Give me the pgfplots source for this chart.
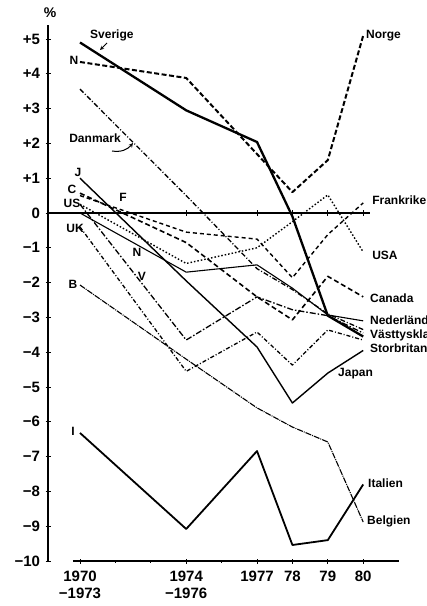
\documentclass[border=0pt]{standalone}
\usepackage{fontspec}
\setmainfont{Liberation Sans}
\usepackage{pgfplots}
\pgfplotsset{compat=1.18}
\tikzset{lbl/.style={font=\fontsize{12}{12}\selectfont\bfseries, inner sep=0pt}}
\begin{document}
\begin{tikzpicture}
\begin{axis}[
  x=35.4pt, y=34.8pt,
  xmin=1.096, xmax=11.03, ymin=-10, ymax=5.4,
  axis y line*=left, axis x line*=bottom,
  x axis line style={draw=none},
  y axis line style={line width=1.5pt},
  clip=false,
  ytick={-10,-9,...,5},
  yticklabels={−10,−9,−8,−7,−6,−5,−4,−3,−2,−1,0,+1,+2,+3,+4,+5},
  xtick={2,5,7,8,9,10},
  xticklabels={{1970\\−1973},{1974\\−1976},1977,78,79,80},
  minor xtick={3,4,6},
  tick align=center,
  major tick length=5pt, minor tick length=3pt,
  tick style={line width=1pt, black},
  yticklabel style={font=\fontsize{15}{15}\selectfont\bfseries, xshift=-2pt},
  xticklabel style={font=\fontsize{15}{17}\selectfont\bfseries, align=center, yshift=-4pt},
  every axis plot/.append style={black, line join=round},
]
% bounding box corners
\coordinate (BL) at (axis cs:-0.26,-11.293);
\coordinate (TR) at (axis cs:11.774,6.121);
% axes decorations
\draw[line width=1.5pt] (axis cs:1.8,-10) -- (axis cs:11.0,-10);
\addplot[line width=1.8pt] coordinates {(1.096,0) (10.2,0)};
\addplot[only marks, mark=|, mark size=3pt, mark options={line width=1pt}] coordinates {(5,0) (7,0) (8,0) (9,0) (10,0)};
% Sverige
\addplot[line width=2.3pt] coordinates {(2,4.9) (5,2.95) (7,2.04) (8,-0.1) (9,-2.95) (10,-3.55)};
% Norge
\addplot[line width=2pt, dash pattern=on 5pt off 2.5pt] coordinates {(2,4.34) (5,3.88) (8,0.6) (9,1.52) (10,5.1)};
% Danmark
\addplot[line width=1.3pt, dash pattern=on 5pt off 2pt on 1pt off 2pt] coordinates {(2,3.56) (5,0.5) (7,-1.6) (8,-2.2) (9,-2.9) (10,-3.35)};
% Japan
\addplot[line width=1.4pt] coordinates {(2,1.0) (5,-1.95) (7,-3.85) (8,-5.46) (9,-4.6) (10,-3.95)};
% Canada
\addplot[line width=1.6pt, dash pattern=on 5pt off 3pt] coordinates {(2,0.57) (5,-0.85) (7,-2.41) (8,-3.07) (9,-1.82) (10,-2.41)};
% Frankrike
\addplot[line width=1.4pt, dash pattern=on 4pt off 3pt] coordinates {(2,0.5) (5,-0.55) (7,-0.75) (8,-1.86) (9,-0.62) (10,0.29)};
% USA
\addplot[line width=1.4pt, dash pattern=on 1.5pt off 2pt] coordinates {(2,0.25) (5,-1.45) (7,-1.0) (8,-0.25) (9,0.52) (10,-1.12)};
% Storbritannien
\addplot[line width=1.3pt, dash pattern=on 4pt off 2pt on 1pt off 2pt] coordinates {(2,-0.4) (5,-4.55) (7,-3.42) (8,-4.37) (9,-3.36) (10,-3.65)};
% Nederlanderna
\addplot[line width=1.1pt] coordinates {(2,0.0) (5,-1.7) (7,-1.49) (8,-2.16) (9,-2.93) (10,-3.1)};
% Vasttyskland
\addplot[line width=1.3pt, dash pattern=on 6pt off 2pt on 1.5pt off 2pt] coordinates {(2,0.25) (5,-3.65) (7,-2.41) (8,-2.78) (9,-2.95) (10,-3.45)};
% Belgien
\addplot[line width=1.1pt, dash pattern=on 6pt off 1pt on 1pt off 1pt] coordinates {(2,-2.07) (5,-4.2) (7,-5.6) (8,-6.15) (9,-6.58) (10,-8.88)};
% Italien
\addplot[line width=1.8pt] coordinates {(2,-6.32) (5,-9.08) (7,-6.84) (8,-9.54) (9,-9.4) (10,-7.8)};
% labels
\node[font=\fontsize{14}{14}\selectfont\bfseries] at (axis cs:1.153,5.747) {\%};
\node[lbl, anchor=west] at (axis cs:2.282,5.115) {Sverige};
\draw[->, line width=0.8pt, >=stealth] (axis cs:2.763,4.885) -- (axis cs:2.565,4.684);
\node[lbl] at (axis cs:1.831,4.397) {N};
\node[lbl] at (axis cs:2.424,2.155) {Danmark};
\draw[->, line width=1pt, >=stealth] (axis cs:2.904,1.782) to[bend right=30] (axis cs:3.497,2.011);
\node[lbl] at (axis cs:1.944,1.178) {J};
\node[lbl] at (axis cs:1.774,0.690) {C};
\node[lbl] at (axis cs:3.215,0.460) {F};
\node[lbl] at (axis cs:1.774,0.287) {US};
\node[lbl] at (axis cs:1.859,-0.431) {UK};
\node[lbl] at (axis cs:3.610,-1.121) {N};
\node[lbl] at (axis cs:3.751,-1.810) {V};
\node[lbl] at (axis cs:1.802,-2.040) {B};
\node[lbl] at (axis cs:1.802,-6.264) {I};
\node[lbl, anchor=west] at (axis cs:10.08,5.086) {Norge};
\node[lbl, anchor=west] at (axis cs:10.25,0.374) {Frankrike};
\node[lbl, anchor=west] at (axis cs:10.25,-1.207) {USA};
\node[lbl, anchor=west] at (axis cs:10.19,-2.443) {Canada};
\node[lbl, anchor=west] at (axis cs:10.19,-3.075) {Nederländerna};
\node[lbl, anchor=west] at (axis cs:10.19,-3.506) {Västtyskland};
\node[lbl, anchor=west] at (axis cs:10.19,-3.879) {Storbritannien};
\node[lbl, anchor=west] at (axis cs:9.288,-4.626) {Japan};
\node[lbl, anchor=west] at (axis cs:10.136,-7.759) {Italien};
\node[lbl, anchor=west] at (axis cs:10.107,-8.851) {Belgien};
\end{axis}
\pgfresetboundingbox
\path[use as bounding box] (BL) rectangle (TR);
\end{tikzpicture}
\end{document}
